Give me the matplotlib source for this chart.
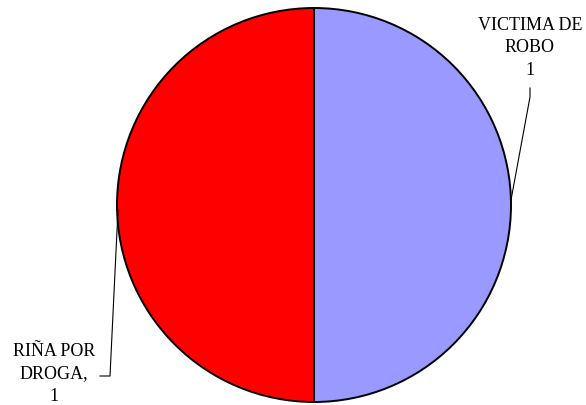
import matplotlib.pyplot as plt

# data
labels = ['VICTIMA DE\nROBO', 'RIÑA POR\nDROGA,']
values = [1, 1]
colors = ['#9999FF', '#FF0000']

plt.rcParams['font.family'] = ['Liberation Serif', 'DejaVu Serif']

fig = plt.figure(figsize=(5.86, 4.05), dpi=100)
ax = fig.add_axes([0, 0, 1, 1])

cx, cy, r = 314, 205, 197
ax.pie(values, colors=colors, startangle=90, counterclock=False,
       center=(cx, cy), radius=r, frame=True,
       wedgeprops=dict(edgecolor='black', linewidth=1.4))
ax.set_xlim(0, 586)
ax.set_ylim(405, 0)
ax.set_aspect('equal')
ax.axis('off')

# labels with leader lines
ax.text(530, 48, labels[0] + '\n' + str(values[0]), ha='center', va='center',
        fontsize=13, linespacing=1.45)
ax.plot([511, 530, 530], [200, 97, 88], color='black', lw=0.8)

ax.text(54, 374, labels[1] + '\n' + str(values[1]), ha='center', va='center',
        fontsize=13, linespacing=1.45)
ax.plot([118, 110, 100], [210, 376, 376], color='black', lw=0.8)

fig.savefig('out.png', dpi=100)
